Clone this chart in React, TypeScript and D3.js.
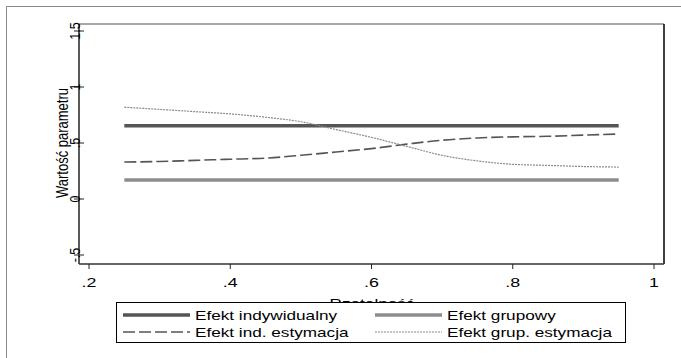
import * as d3 from "d3";

const probs = [0.25, 0.3, 0.35, 0.4, 0.45, 0.5, 0.55, 0.6, 0.65, 0.7, 0.75, 0.8, 0.85, 0.9, 0.95];
const efektInd = [0.655, 0.655, 0.655, 0.655, 0.655, 0.655, 0.655, 0.655, 0.655, 0.655, 0.655, 0.655, 0.655, 0.655, 0.655];
const efektGrup = [0.17, 0.17, 0.17, 0.17, 0.17, 0.17, 0.17, 0.17, 0.17, 0.17, 0.17, 0.17, 0.17, 0.17, 0.17];
const estInd = [0.33, 0.335, 0.345, 0.355, 0.365, 0.39, 0.42, 0.45, 0.49, 0.525, 0.545, 0.555, 0.56, 0.57, 0.58];
const estGrup = [0.82, 0.8, 0.78, 0.76, 0.73, 0.69, 0.62, 0.55, 0.47, 0.39, 0.34, 0.31, 0.3, 0.29, 0.285];

const xTicks = [0.2, 0.4, 0.6, 0.8, 1];
const xTickLabels = [".2", ".4", ".6", ".8", "1"];
const yTicks = [-0.5, 0, 0.5, 1, 1.5];
const yTickLabels = ["-.5", "0", ".5", "1", "1.5"];

const seriesNames = ["Efekt indywidualny", "Efekt grupowy", "Efekt ind. estymacja", "Efekt grup. estymacja"];

const W = 681;
const H = 358;
const plot = { left: 79, right: 664, top: 24, bottom: 264 };
const font = "'Liberation Sans', Arial, sans-serif";
// the picture is stretched sideways, so horizontal text is wider than its height suggests
const SX = 1.32;

const styles = [
  { stroke: "#555555", width: 3.5, dash: "none" },
  { stroke: "#8c8c8c", width: 3.5, dash: "none" },
  { stroke: "#555555", width: 1.6, dash: "12,4" },
  { stroke: "#8a8a8a", width: 1.2, dash: "2,1" },
];

export default function App() {
  const x = d3.scaleLinear().domain([0.2, 1]).range([89, 654]);
  const y = d3.scaleLinear().domain([0, 1]).range([199, 87]);

  const line = d3
    .line<[number, number]>()
    .x((d) => x(d[0]))
    .y((d) => y(d[1]))
    .curve(d3.curveMonotoneX);

  const series = [efektInd, efektGrup, estInd, estGrup].map((vals) =>
    probs.map((p, i) => [p, vals[i]] as [number, number])
  );

  const legendBox = { x: 116, y: 302, w: 509, h: 40 };
  const legendItems = seriesNames.map((name, i) => ({
    name,
    col: i % 2,
    row: Math.floor(i / 2),
  }));
  const colX = [123, 375];
  const rowY = [315, 332];

  return (
    <div style={{ position: "absolute", left: 0, top: 0 }}>
      <svg width={W} height={H} style={{ display: "block", background: "#fff" }}>
        <rect x={0} y={0} width={W} height={H} fill="#fff" />
        {/* outer frame */}
        <rect x={6.5} y={6.5} width={700} height={360} fill="none" stroke="#8a8a8a" strokeWidth={1} />

        {/* plot region */}
        <line x1={plot.left} x2={plot.right} y1={plot.top} y2={plot.top} stroke="#8a8a8a" strokeWidth={1.5} />
        <line x1={plot.right} x2={plot.right} y1={plot.top} y2={plot.bottom} stroke="#000" strokeWidth={1.5} />

        {/* series */}
        {series.map((pts, i) => (
          <path
            key={i}
            d={line(pts) ?? ""}
            fill="none"
            stroke={styles[i].stroke}
            strokeWidth={styles[i].width}
            strokeDasharray={styles[i].dash}
          />
        ))}

        {/* y axis */}
        <line x1={plot.left} x2={plot.left} y1={plot.top} y2={plot.bottom} stroke="#222" strokeWidth={1.5} />
        {yTicks.map((t, i) => (
          <g key={t} transform={`translate(${plot.left},${y(t)})`}>
            <line x1={-5} x2={5} stroke="#222" strokeWidth={1} />
            <text
              transform="translate(1,0) rotate(-90) scale(1,1.2)"
              textAnchor="middle"
              fontFamily={font}
              fontSize={12.5}
              fill="#000"
            >
              {yTickLabels[i]}
            </text>
          </g>
        ))}
        <text
          transform={`translate(68,143) rotate(-90) scale(1,1.2)`}
          textAnchor="middle"
          fontFamily={font}
          fontSize={13}
          fill="#000"
        >
          Wartość parametru
        </text>

        {/* x axis */}
        <line x1={plot.left} x2={plot.right} y1={plot.bottom} y2={plot.bottom} stroke="#333" strokeWidth={1.5} />
        {xTicks.map((t, i) => (
          <g key={t} transform={`translate(${x(t)},${plot.bottom})`}>
            <line y1={0} y2={5} stroke="#222" strokeWidth={1} />
            <text
              transform={`translate(0,23) scale(${SX},1)`}
              textAnchor="middle"
              fontFamily={font}
              fontSize={13.5}
              fill="#000"
            >
              {xTickLabels[i]}
            </text>
          </g>
        ))}
        <text
          transform={`translate(372,308) scale(${SX},1)`}
          textAnchor="middle"
          fontFamily={font}
          fontSize={13}
          fill="#000"
        >
          Rzetelność
        </text>

        {/* legend */}
        <rect
          x={legendBox.x + 0.5}
          y={legendBox.y + 0.5}
          width={legendBox.w}
          height={legendBox.h}
          fill="#fff"
          stroke="#000"
          strokeWidth={1}
        />
        {legendItems.map((it, i) => (
          <g key={it.name}>
            <line
              x1={colX[it.col]}
              x2={colX[it.col] + 67}
              y1={rowY[it.row]}
              y2={rowY[it.row]}
              stroke={styles[i].stroke}
              strokeWidth={styles[i].width}
              strokeDasharray={styles[i].dash}
            />
            <text
              transform={`translate(${colX[it.col] + 72},${rowY[it.row] + 5}) scale(${SX},1)`}
              fontFamily={font}
              fontSize={13}
              fill="#000"
            >
              {it.name}
            </text>
          </g>
        ))}
      </svg>
    </div>
  );
}
